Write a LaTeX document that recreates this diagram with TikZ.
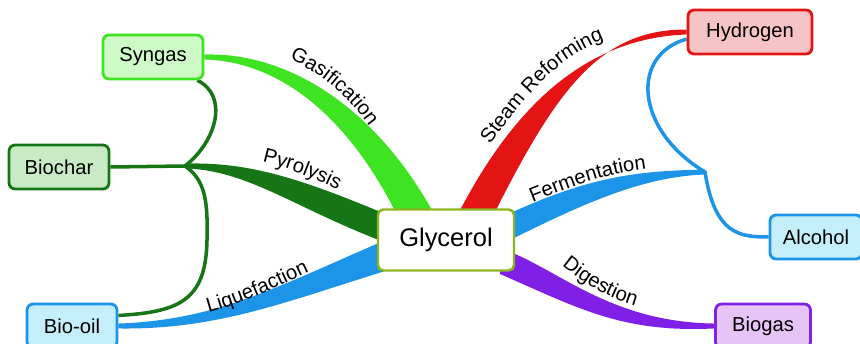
\documentclass[tikz,border=0pt]{standalone}
\usepackage{fontspec}
\setmainfont{Liberation Sans}
\usetikzlibrary{calc,backgrounds,decorations.text}
\definecolor{gasgreen}{RGB}{62,228,34}
\definecolor{gaslight}{RGB}{206,250,200}
\definecolor{pyrgreen}{RGB}{22,118,22}
\definecolor{charlight}{RGB}{200,234,196}
\definecolor{liqblue}{RGB}{28,148,232}
\definecolor{oillight}{RGB}{196,238,250}
\definecolor{steamred}{RGB}{228,20,20}
\definecolor{hydlight}{RGB}{246,196,196}
\definecolor{digpurple}{RGB}{128,32,230}
\definecolor{biolilac}{RGB}{230,196,246}
\definecolor{glyborder}{RGB}{140,182,30}
\newcommand{\lblfont}{\fontsize{11.5}{13}\selectfont}

\begin{document}
\begin{tikzpicture}[x=0.02cm,y=-0.02cm,
    prod/.style={draw,line width=1.6pt,rounded corners=3.5pt,minimum height=0.88cm,
      font=\fontsize{11.5}{13}\selectfont},
    link/.style={line width=2pt},
    lbl/.style={decorate,decoration={text along path,text align=center,text={|\lblfont|#1}}}]
  \useasboundingbox (0,0) rectangle (860,344);
  % products round the centre
  \node[prod,draw=gasgreen,fill=gaslight,minimum width=2cm] (syngas) at (153,57) {Syngas};
  \node[prod,draw=pyrgreen,fill=charlight,minimum width=2cm] (biochar) at (59,167) {Biochar};
  \node[prod,draw=liqblue,fill=oillight,minimum width=1.8cm] (biooil) at (72,326) {Bio-oil};
  \node[prod,draw=steamred,fill=hydlight,minimum width=2.48cm] (hydrogen) at (750,32) {Hydrogen};
  \node[prod,draw=liqblue,fill=oillight,minimum width=1.84cm] (alcohol) at (816,237) {Alcohol};
  \node[prod,draw=digpurple,fill=biolilac,minimum width=1.9cm] (biogas) at (763,326) {Biogas};
  \node[draw=glyborder,fill=white,line width=1.4pt,rounded corners=3pt,minimum width=2.72cm,
    minimum height=1.22cm,font=\fontsize{14.5}{17}\selectfont] (glycerol) at (446,240) {Glycerol};
  \coordinate (jl) at (185,166);
  \coordinate (jr) at (705,172);
  \begin{scope}[on background layer]
    % left side
    \fill[gasgreen] ([yshift=1.4pt]syngas.east) .. controls (292,52) and (382,112) .. (440,225)
      -- (405,232) .. controls (358,128) and (288,62) .. ([yshift=-1.4pt]syngas.east) -- cycle;
    \fill[pyrgreen] ([yshift=1.4pt]jl) .. controls (250,162) and (300,178) .. (395,218)
      -- (395,246) .. controls (300,212) and (250,170) .. ([yshift=-1.4pt]jl) -- cycle;
    \draw[link,pyrgreen] (biochar.east) -- (jl);
    \draw[link,pyrgreen] ([xshift=-4pt]syngas.south east) .. controls (228,95) and (218,140) .. (jl)
      .. controls (205,180) and (208,200) .. (207,240) .. controls (206,300) and (180,312) .. ([yshift=6pt]biooil.east);
    \fill[liqblue] ([yshift=1.4pt]biooil.east) .. controls (220,320) and (280,285) .. (395,236)
      -- (395,268) .. controls (290,300) and (220,330) .. ([yshift=-1.4pt]biooil.east) -- cycle;
    % right side
    \fill[steamred] ([yshift=1.4pt]hydrogen.west) .. controls (600,29) and (556,90) .. (492,218)
      -- (456,218) .. controls (516,100) and (590,38) .. ([yshift=-1.4pt]hydrogen.west) -- cycle;
    \fill[liqblue] ([yshift=1.4pt]jr) .. controls (640,171) and (590,175) .. (500,218)
      -- (500,245) .. controls (580,205) and (640,177) .. ([yshift=-1.4pt]jr) -- cycle;
    \draw[link,liqblue] ([yshift=-4pt]hydrogen.west) .. controls (630,55) and (635,130) .. (jr)
      .. controls (715,235) and (740,237) .. (alcohol.west);
    \fill[digpurple] (500,248) .. controls (558,268) and (608,322) .. ([yshift=1.4pt]biogas.west)
      -- ([yshift=-1.4pt]biogas.west) .. controls (622,333) and (578,308) .. (500,274) -- cycle;
  \end{scope}
  % process names
  \path[lbl=Gasification] (272,52) .. controls (318,68) and (352,97) .. (380,142);
  \path[lbl=Pyrolysis] (240,158) .. controls (275,162) and (310,175) .. (358,200);
  \path[lbl=Liquefaction] (195,316) .. controls (240,306) and (278,286) .. (322,266);
  \path[lbl=Steam Reforming] (476,165) .. controls (515,108) and (560,45) .. (628,33);
  \path[lbl=Fermentation] (518,208) .. controls (565,190) and (602,172) .. (662,167);
  \path[lbl=Digestion] (545,251) .. controls (572,275) and (605,302) .. (657,311);
\end{tikzpicture}
\end{document}
